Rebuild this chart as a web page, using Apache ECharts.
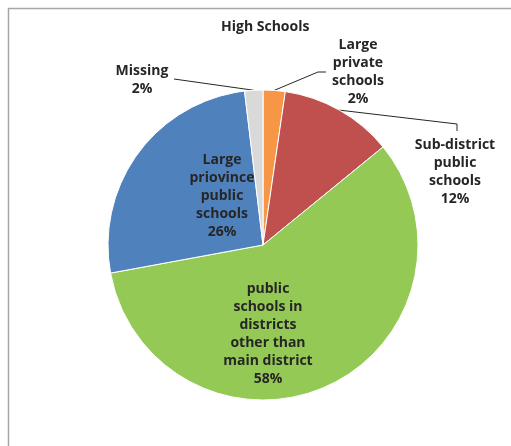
<!DOCTYPE html>
<html>
<head>
<meta charset="utf-8">
<script src="https://cdn.jsdelivr.net/npm/echarts@6/dist/echarts.min.js"></script>
<style>
  html, body { margin: 0; padding: 0; background: #fff; }
  #main { width: 511px; height: 446px; }
</style>
</head>
<body>
<div id="main"></div>
<script>
const categories = [
  'Large\nprivate\nschools',
  'Sub-district\npublic\nschools',
  'public\nschools in\ndistricts\nother than\nmain district',
  'Large\npriovince\npublic\nschools',
  'Missing'
];
const shares = [2.3, 11.8, 58.0, 26.0, 1.9];
const sliceColors = ['#F79646', '#C0504D', '#95C955', '#4F81BD', '#D9D9D9'];

// where each label sits, and the bends of the leader lines
const labelSpots = [
  { x: 358, y: 72, line: [[318, 72], [326, 72]] },
  { x: 455, y: 172, line: [[457, 124], [457, 131]] },
  { x: 268, y: 334 },
  { x: 222, y: 196 },
  { x: 142, y: 80, line: [[174, 79]] }
];
const insideIdx = [2, 3];

const myChart = echarts.init(document.getElementById('main'));
const font = { fontFamily: 'Open Sans', fontWeight: 'bold', fontSize: 14, color: '#262626', lineHeight: 18 };

let option = {
  animation: false,
  color: sliceColors,
  graphic: [{
    type: 'polyline',
    shape: { points: [[8.5, 446], [8.5, 8.5], [511, 8.5]] },
    style: { stroke: '#A6A6A6', lineWidth: 1.5, fill: null }
  }],
  title: {
    text: 'High Schools',
    left: 216,
    top: 15,
    textStyle: { fontFamily: 'Open Sans', fontWeight: 'bold', fontSize: 14, color: '#262626' }
  },
  series: [{
    type: 'pie',
    center: [263, 245],
    radius: 155,
    startAngle: 90,
    clockwise: true,
    percentPrecision: 0,
    itemStyle: { borderColor: '#fff', borderWidth: 1 },
    label: Object.assign({ formatter: '{b}\n{d}%', align: 'center', overflow: 'none' }, font),
    labelLine: { show: true, lineStyle: { color: '#262626', width: 1 } },
    data: categories.map((name, i) => ({
      name: name,
      value: shares[i],
      label: insideIdx.includes(i) ? { position: 'inside' } : { position: 'outside' },
      labelLine: { show: !insideIdx.includes(i) }
    })),
    labelLayout: function (params) {
      const spot = labelSpots[params.dataIndex];
      const out = { x: spot.x, y: spot.y, align: 'center', verticalAlign: 'middle' };
      if (spot.line && params.labelLinePoints) {
        out.labelLinePoints = [params.labelLinePoints[0]].concat(spot.line);
      }
      return out;
    }
  }]
};
myChart.setOption(option);
</script>
</body>
</html>
